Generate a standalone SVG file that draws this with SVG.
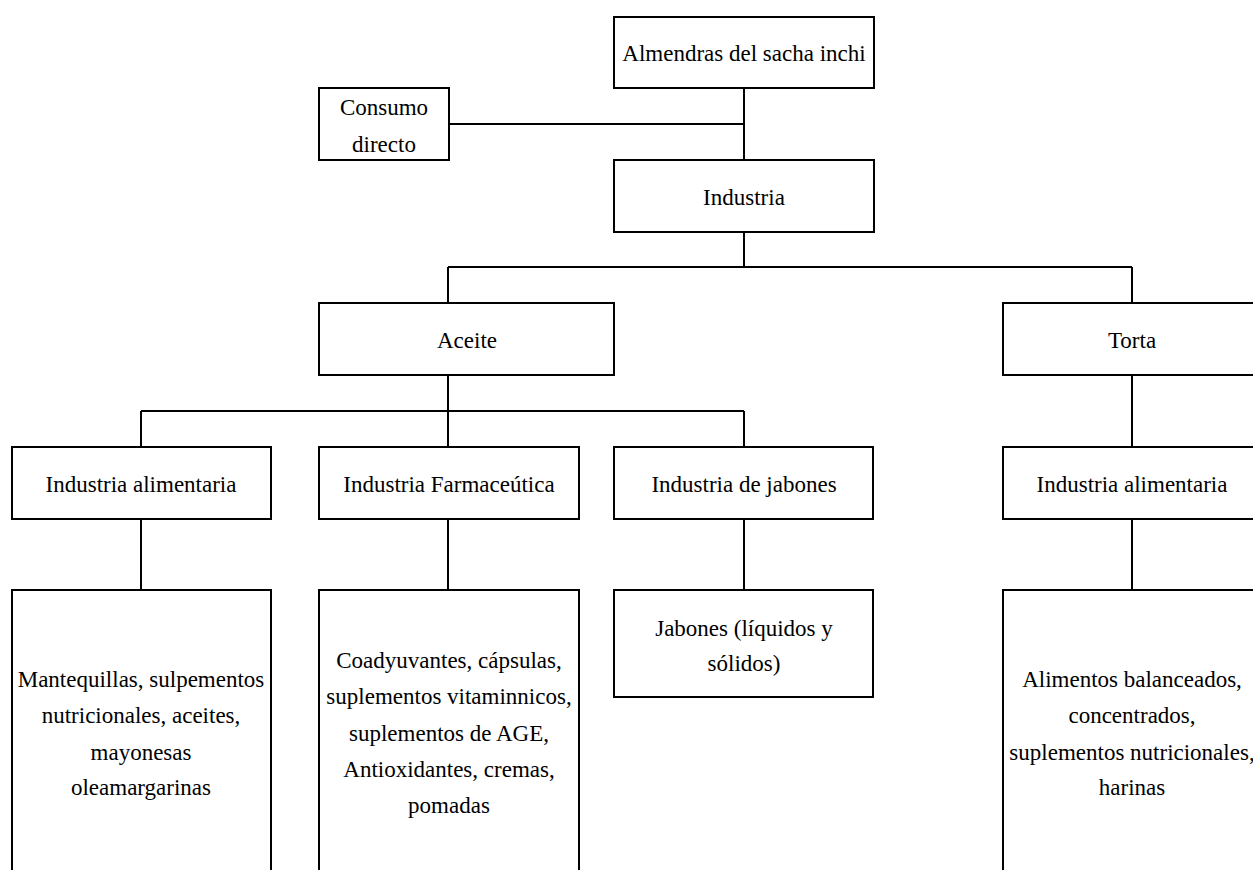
<svg xmlns="http://www.w3.org/2000/svg" width="1253" height="870" viewBox="0 0 1253 870">
<style>
.box{fill:#fff;stroke:#000;stroke-width:2}
.t{font-family:"Liberation Serif","Times New Roman",serif;font-size:23px;fill:#000;text-anchor:middle}
.c{fill:none;stroke:#000;stroke-width:2}
</style>
<rect width="1253" height="870" fill="#fff"/>
<g id="connectors">
<path class="c" d="M744 88V160M449 124H744M744 232V267M448 267H1132M448 267V303M1132 267V303M448 375V411M141 411H744M141 411V447M448 411V447M744 411V447M1132 375V447M141 519V590M448 519V590M744 519V590M1132 519V590"/>
</g>
<g id="n-almendras"><rect class="box" x="614" y="17" width="260" height="71"/><text class="t" x="744" y="61">Almendras del sacha inchi</text></g>
<g id="n-consumo"><rect class="box" x="319" y="88" width="130" height="72"/><text class="t" x="384" y="115">Consumo</text><text class="t" x="384" y="152">directo</text></g>
<g id="n-industria"><rect class="box" x="614" y="160" width="260" height="72"/><text class="t" x="744" y="205">Industria</text></g>
<g id="n-aceite"><rect class="box" x="319" y="303" width="295" height="72"/><text class="t" x="467" y="348">Aceite</text></g>
<g id="n-torta"><rect class="box" x="1003" y="303" width="258" height="72"/><text class="t" x="1132" y="348">Torta</text></g>
<g id="n-ind-alim-1"><rect class="box" x="12" y="447" width="259" height="72"/><text class="t" x="141" y="492">Industria alimentaria</text></g>
<g id="n-ind-farma"><rect class="box" x="319" y="447" width="260" height="72"/><text class="t" x="449" y="492">Industria Farmaceútica</text></g>
<g id="n-ind-jabones"><rect class="box" x="614" y="447" width="259" height="72"/><text class="t" x="744" y="492">Industria de jabones</text></g>
<g id="n-ind-alim-2"><rect class="box" x="1003" y="447" width="258" height="72"/><text class="t" x="1132" y="492">Industria alimentaria</text></g>
<g id="n-mantequillas"><rect class="box" x="12" y="590" width="259" height="300"/>
<text class="t" x="141" y="687">Mantequillas, sulpementos</text>
<text class="t" x="141" y="723">nutricionales, aceites,</text>
<text class="t" x="141" y="760">mayonesas</text>
<text class="t" x="141" y="795">oleamargarinas</text></g>
<g id="n-coadyuvantes"><rect class="box" x="319" y="590" width="260" height="300"/>
<text class="t" x="449" y="668">Coadyuvantes, cápsulas,</text>
<text class="t" x="449" y="704">suplementos vitaminnicos,</text>
<text class="t" x="449" y="741">suplementos de AGE,</text>
<text class="t" x="449" y="777">Antioxidantes, cremas,</text>
<text class="t" x="449" y="813">pomadas</text></g>
<g id="n-jabones"><rect class="box" x="614" y="590" width="259" height="107"/>
<text class="t" x="744" y="636">Jabones (líquidos y</text>
<text class="t" x="744" y="671">sólidos)</text></g>
<g id="n-alimentos"><rect class="box" x="1003" y="590" width="258" height="300"/>
<text class="t" x="1132" y="687">Alimentos balanceados,</text>
<text class="t" x="1132" y="723">concentrados,</text>
<text class="t" x="1132" y="760">suplementos nutricionales,</text>
<text class="t" x="1132" y="795">harinas</text></g>
</svg>
